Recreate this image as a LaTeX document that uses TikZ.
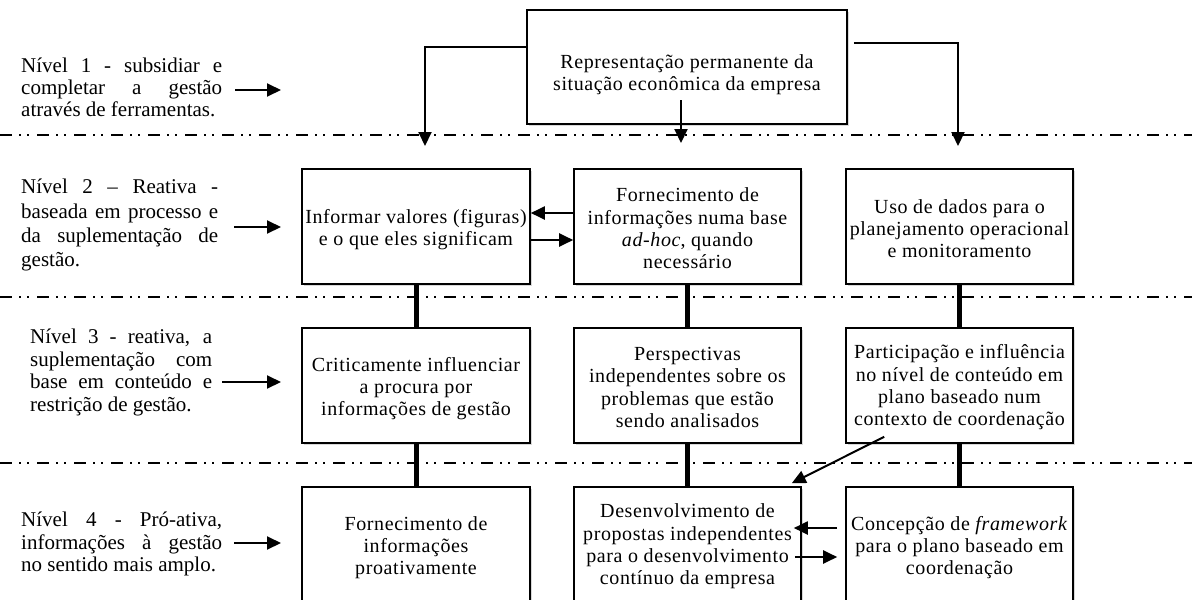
\documentclass[tikz,border=0pt]{standalone}
\usepackage{fontspec}
\setmainfont{Liberation Serif}
\newfontfamily\boxfont[LetterSpace=3]{Liberation Serif}
\usetikzlibrary{arrows.meta,shadows}
\begin{document}
\begin{tikzpicture}[x=1pt,y=-1pt,
  box/.style={draw, line width=1.6pt, fill=white, inner sep=0pt,
    minimum width=227pt, minimum height=115pt,
    drop shadow={shadow xshift=1.5pt, shadow yshift=-1.5pt, opacity=0.3}},
  btxt/.style={inner sep=0pt, align=center,
    font=\boxfont\fontsize{20}{22.3}\selectfont},
  lab/.style={anchor=base west, inner sep=0pt, font=\fontsize{21}{23}\selectfont},
  arr/.style={line width=2pt, -{Triangle[length=14pt,width=13pt]}},
  link/.style={line width=5pt},
  sep/.style={line width=1.5pt, dash pattern=on 12pt off 7pt on 2pt off 6pt on 2pt off 8pt}
]
\useasboundingbox (0,0) rectangle (1192,600);
\fill[white] (0,0) rectangle (1192,600);

% separators
\draw[sep] (0,135) -- (1192,135);
\draw[sep] (0,297) -- (1192,297);
\draw[sep] (0,463) -- (1192,463);

% top box
\node[box, minimum width=320pt, minimum height=114pt] (top) at (687,67) {};
\node[btxt] (topt) at ([yshift=-8pt]top.center)
  {Representação permanente da\\situação econômica da empresa};

% level 2
\node[box, minimum width=228pt] (L2) at (416,226.5) {};
\node[box] (M2) at (687.5,226.5) {};
\node[box] (R2) at (959.5,226.5) {};
\node[btxt] (L2t) at ([yshift=-3pt]L2.center)
  {Informar valores (figuras)\\e o que eles significam};
\node[btxt] (M2t) at ([yshift=-2pt]M2.center)
  {Fornecimento de\\informações numa base\\\textit{ad-hoc}, quando\\necessário};
\node[btxt] (R2t) at ([yshift=-2pt]R2.center)
  {Uso de dados para o\\planejamento operacional\\e monitoramento};

% level 3
\node[box, minimum width=228pt] (L3) at (416,385.5) {};
\node[box] (M3) at (687.5,385.5) {};
\node[box] (R3) at (959.5,385.5) {};
\node[btxt] (L3t) at ([yshift=-3pt]L3.center)
  {Criticamente influenciar\\a procura por\\informações de gestão};
\node[btxt] (M3t) at ([yshift=-2pt]M3.center)
  {Perspectivas\\independentes sobre os\\problemas que estão\\sendo analisados};
\node[btxt] (R3t) at ([yshift=-2pt]R3.center)
  {Participação e influência\\no nível de conteúdo em\\plano baseado num\\contexto de coordenação};

% level 4
\node[box, minimum width=228pt] (L4) at (416,544.5) {};
\node[box] (M4) at (687.5,544.5) {};
\node[box] (R4) at (959.5,544.5) {};
\node[btxt] (L4t) at ([yshift=-3pt]L4.center)
  {Fornecimento de\\informações\\proativamente};
\node[btxt] (M4t) at ([yshift=-2pt]M4.center)
  {Desenvolvimento de\\propostas independentes\\para o desenvolvimento\\contínuo da empresa};
\node[btxt] (R4t) at ([yshift=-3pt]R4.center)
  {Concepção de \textit{framework}\\para o plano baseado em\\coordenação};

% thick links
\draw[link] (L2.south) -- (L3.north);
\draw[link] (L3.south) -- (L4.north);
\draw[link] (M2.south) -- (M3.north);
\draw[link] (M3.south) -- (M4.north);
\draw[link] (R2.south) -- (R3.north);
\draw[link] (R3.south) -- (R4.north);

% arrows from top box
\coordinate (t1) at (425,146);
\coordinate (t2s) at (681,100);
\coordinate (t2) at (681,143);
\coordinate (t3) at (958,146);
\draw[arr] ([yshift=20pt]top.west) -| (t1);
\draw[arr] (t2s) -- (t2);
\draw[arr] ([shift={(6pt,24pt)}]top.east) -| (t3);

% level 2 exchange
\draw[arr] ([yshift=13.5pt]M2.west) -- ([yshift=13.5pt]L2.east);
\draw[arr] ([yshift=-13.5pt]L2.east) -- ([yshift=-13.5pt]M2.west);

% level 4 exchange
\draw[arr] ([shift={(-8pt,16.5pt)}]R4.west) -- ([shift={(-8pt,16.5pt)}]M4.east);
\draw[arr] ([shift={(-7pt,-12.5pt)}]M4.east) -- ([shift={(-8pt,-12.5pt)}]R4.west);

% diagonal
\draw[arr] ([shift={(39pt,7pt)}]R3.south west) -- ([shift={(-10pt,3pt)}]M4.north east);

% left labels
\node[lab] (n1a) at (21,72) {\makebox[201pt][s]{Nível 1 - subsidiar e}};
\node[lab] (n1b) at (21,94) {\makebox[201pt][s]{completar a gestão}};
\node[lab] (n1c) at (21,116) {através de ferramentas.};

\node[lab] (n2a) at (21,193) {\makebox[197pt][s]{Nível 2 – Reativa -}};
\node[lab] (n2b) at (21,218) {\makebox[197pt][s]{baseada em processo e}};
\node[lab] (n2c) at (21,242) {\makebox[197pt][s]{da suplementação de}};
\node[lab] (n2d) at (21,266) {gestão.};

\node[lab] (n3a) at (30,343) {\makebox[182pt][s]{Nível 3 - reativa, a}};
\node[lab] (n3b) at (30,366) {\makebox[182pt][s]{suplementação com}};
\node[lab] (n3c) at (30,388) {\makebox[182pt][s]{base em conteúdo e}};
\node[lab] (n3d) at (30,411) {restrição de gestão.};

\node[lab] (n4a) at (21,526) {\makebox[201pt][s]{Nível 4 - Pró-ativa,}};
\node[lab] (n4b) at (21,549) {\makebox[201pt][s]{informações à gestão}};
\node[lab] (n4c) at (21,571) {no sentido mais amplo.};

% level markers
\coordinate (k1s) at (235,90);  \coordinate (k1e) at (281,90);
\coordinate (k2s) at (234,227); \coordinate (k2e) at (281,227);
\coordinate (k3s) at (222,382); \coordinate (k3e) at (281,382);
\coordinate (k4s) at (234,543); \coordinate (k4e) at (281,543);
\draw[arr] (k1s) -- (k1e);
\draw[arr] (k2s) -- (k2e);
\draw[arr] (k3s) -- (k3e);
\draw[arr] (k4s) -- (k4e);
\end{tikzpicture}
\end{document}
